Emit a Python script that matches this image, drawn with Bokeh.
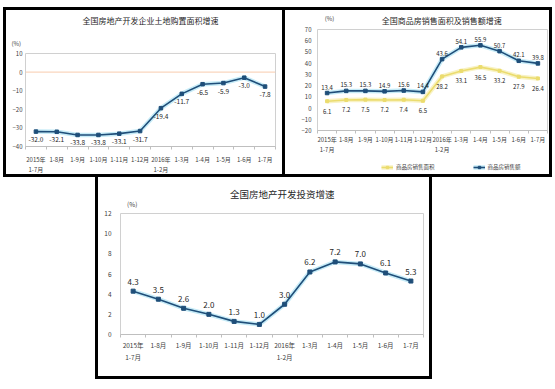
from bokeh.plotting import figure
from bokeh.models import Range1d, FixedTicker, Title, Legend, LegendItem, Span, ColumnDataSource, Spacer
from bokeh.core.properties import value
from bokeh.layouts import row, column
from bokeh.embed import file_html
from bokeh.resources import INLINE

FONT = "Noto Sans CJK SC"

months = ["2015年\n1-7月", "1-8月", "1-9月", "1-10月", "1-11月", "1-12月",
          "2016年\n1-2月", "1-3月", "1-4月", "1-5月", "1-6月", "1-7月"]

land_title = "全国房地产开发企业土地购置面积增速"
land_growth = [-32.0, -32.1, -33.8, -33.8, -33.1, -31.7, -19.4, -11.7, -6.5, -5.9, -3.0, -7.8]
land_yticks = [-40, -30, -20, -10, 0, 10]

sales_title = "全国商品房销售面积及销售额增速"
sales_area_name = "商品房销售面积"
sales_value_name = "商品房销售额"
sales_area = [6.1, 7.2, 7.5, 7.2, 7.4, 6.5, 28.2, 33.1, 36.5, 33.2, 27.9, 26.4]
sales_value = [13.4, 15.3, 15.3, 14.9, 15.6, 14.4, 43.6, 54.1, 55.9, 50.7, 42.1, 39.8]
sales_yticks = [-20, -10, 0, 10, 20, 30, 40, 50, 60, 70]

invest_title = "全国房地产开发投资增速"
invest_growth = [4.3, 3.5, 2.6, 2.0, 1.3, 1.0, 3.0, 6.2, 7.2, 7.0, 6.1, 5.3]
invest_yticks = [0, 2, 4, 6, 8, 10, 12]

BLUE = "#1f4e79"
GLOW = "#c6ebf7"
YEL = "#ebdc6e"
YGLOW = "#f8f2c4"
TXT = "#404040"


def panel(width, height, mb, yticks, shadow, tick_fs, xsd, ysd, title=None, title_fs=None,
          title_sd=0, pct_dx=0, pct_sd=0):
    n = len(months)
    p = figure(width=width, height=height, output_backend="svg", toolbar_location=None,
               sizing_mode="fixed",
               x_range=Range1d(-0.5, n - 0.5), y_range=Range1d(min(yticks), max(yticks)),
               min_border_left=mb[0], min_border_right=mb[1], min_border_top=mb[2], min_border_bottom=mb[3])
    p.border_fill_color = None
    p.background_fill_color = "white"
    p.outline_line_color = "#d0d0d0"
    p.outline_line_width = 1
    p.grid.visible = False
    p.styles = {"background-color": "white", "box-shadow": shadow}

    xa = p.xaxis[0]
    xa.ticker = FixedTicker(ticks=list(range(n)), minor_ticks=[i - 0.5 for i in range(n + 1)])
    xa.major_label_overrides = {i: lab for i, lab in enumerate(months)}
    xa.major_tick_line_color = None
    xa.major_tick_out = 0
    xa.major_tick_in = 0
    xa.minor_tick_in = 0
    xa.minor_tick_out = 3
    xa.minor_tick_line_color = "#bfbfbf"
    xa.axis_line_color = "#bfbfbf"
    xa.major_label_text_font = FONT
    xa.major_label_text_font_size = tick_fs
    xa.major_label_text_color = TXT
    xa.major_label_standoff = xsd

    ya = p.yaxis[0]
    ya.ticker = FixedTicker(ticks=yticks, minor_ticks=[])
    ya.major_tick_line_color = None
    ya.major_tick_out = 0
    ya.major_tick_in = 0
    ya.axis_line_color = None
    ya.major_label_text_font = FONT
    ya.major_label_text_font_size = tick_fs
    ya.major_label_text_color = TXT
    ya.major_label_standoff = ysd

    if title is not None:
        p.add_layout(Title(text="(%)", align="left", offset=pct_dx, standoff=pct_sd,
                           text_font=FONT, text_font_size=tick_fs, text_color=TXT,
                           text_font_style="normal"), "above")
        p.title.text = title
        p.title.align = "center"
        p.title.text_font = FONT
        p.title.text_font_size = title_fs
        p.title.text_font_style = "normal"
        p.title.text_color = "#262626"
        p.title.standoff = title_sd
    else:
        p.title = None
    return p


def series(p, vals, color, glow, msize, lab_fs, lab_dy):
    src = ColumnDataSource(dict(x=list(range(len(vals))), y=vals, lab=[f"{v:.1f}" for v in vals]))
    p.line("x", "y", source=src, line_color=glow, line_width=4.5)
    p.line("x", "y", source=src, line_color=color, line_width=1.6)
    p.scatter("x", "y", source=src, marker="square", size=msize, color=color)
    p.text("x", "y", text="lab", source=src, text_font_size=lab_fs, text_color="#262626",
           text_align="center", text_baseline="middle", y_offset=lab_dy,
           text_font=value(FONT))


def strip(width, height, shadow):
    s = figure(width=width, height=height, output_backend="svg", toolbar_location=None,
               sizing_mode="fixed", x_axis_location=None, y_axis_location=None,
               x_range=Range1d(0, width), y_range=Range1d(0, height),
               min_border_left=0, min_border_right=0, min_border_top=0, min_border_bottom=0)
    s.border_fill_color = None
    s.background_fill_color = None
    s.outline_line_color = None
    s.grid.visible = False
    s.title = None
    s.styles = {"background-color": "white", "box-shadow": shadow}
    return s


def header(s, title, title_fs, tx, ty, px, py, pct_fs):
    s.text(x=[tx], y=[ty], text=[title], text_font=value(FONT), text_font_size=title_fs,
           text_color="#262626", text_align="center", text_baseline="middle")
    s.text(x=[px], y=[py], text=["(%)"], text_font=value(FONT), text_font_size=pct_fs,
           text_color=TXT, text_align="center", text_baseline="middle")


SH1 = "inset 3px 0 0 0 #000, inset 0 3px 0 0 #000, inset 0 -3px 0 0 #000"
SH_T = "inset 3px 0 0 0 #000, inset -3px 0 0 0 #000, inset 0 3px 0 0 #000"
SH_M = "inset 3px 0 0 0 #000, inset -3px 0 0 0 #000"
SH_B = "inset 3px 0 0 0 #000, inset -3px 0 0 0 #000, inset 0 -3px 0 0 #000"

# panel 1
p1 = panel(279, 170, (22, 7, 45, 24), land_yticks, SH1, "6px", 5, 3,
           land_title, "8px", 11, -14, 11)
p1.add_layout(Span(location=0, dimension="width", line_color="#f8cbad", line_width=1))
series(p1, land_growth, BLUE, GLOW, 3.5, "6.5px", 8)

# panel 2: header strip, chart, legend strip
hp = strip(270, 18, SH_T)
header(hp, sales_title, "8px", 146, 5, 14, 7, "6px")

p2 = panel(270, 132, (35, 5, 4, 26), sales_yticks, SH_M, "6px", 1, 6)
series(p2, sales_area, YEL, YGLOW, 3, "6px", 10)
series(p2, sales_value, BLUE, GLOW, 3.5, "6px", -6)

lp = strip(270, 20, SH_B)
lp.y_range = Range1d(1000, 1001)
sw_x = list(range(len(months)))
sw_area = [lp.line(x=sw_x, y=sales_area, line_color=YGLOW, line_width=4.5),
           lp.line(x=sw_x, y=sales_area, line_color=YEL, line_width=1.6),
           lp.scatter(x=sw_x, y=sales_area, marker="square", size=3, color=YEL)]
sw_value = [lp.line(x=sw_x, y=sales_value, line_color=GLOW, line_width=4.5),
            lp.line(x=sw_x, y=sales_value, line_color=BLUE, line_width=1.6),
            lp.scatter(x=sw_x, y=sales_value, marker="square", size=3.5, color=BLUE)]
leg = Legend(items=[LegendItem(label=sales_area_name, renderers=sw_area),
                    LegendItem(label=sales_value_name, renderers=sw_value)],
             orientation="horizontal", location="left")
leg.label_text_font = FONT
leg.label_text_font_size = "5.5px"
leg.label_text_color = TXT
leg.glyph_width = 12
leg.glyph_height = 6
leg.label_height = 6
leg.label_width = 10
leg.label_standoff = 3
leg.spacing = 38
leg.padding = 1
leg.margin = 64
leg.border_line_color = None
leg.background_fill_color = None
lp.add_layout(leg)

# panel 3: header strip + chart
hp3 = strip(337, 32, SH_M)
header(hp3, invest_title, "9.5px", 180, 16, 13, 6, "6.5px")
p3 = panel(337, 170, (25, 9, 4, 45), invest_yticks, SH_B, "6.5px", 2, 9)
series(p3, invest_growth, BLUE, GLOW, 4, "8px", -9.5)

right_col = column(hp, p2, lp, width=270, height=170, sizing_mode="fixed")
top = row(Spacer(width=3, height=170, sizing_mode="fixed"), p1, right_col,
          width=552, height=170, sizing_mode="fixed")
p3_col = column(hp3, p3, width=337, height=202, sizing_mode="fixed")
bottom = row(Spacer(width=95, height=202, sizing_mode="fixed"), p3_col,
             width=432, height=202, sizing_mode="fixed")
layout = column(Spacer(width=552, height=7, sizing_mode="fixed"), top, bottom,
                width=552, height=379, sizing_mode="fixed")

open("out.html", "w").write(file_html(layout, INLINE))
